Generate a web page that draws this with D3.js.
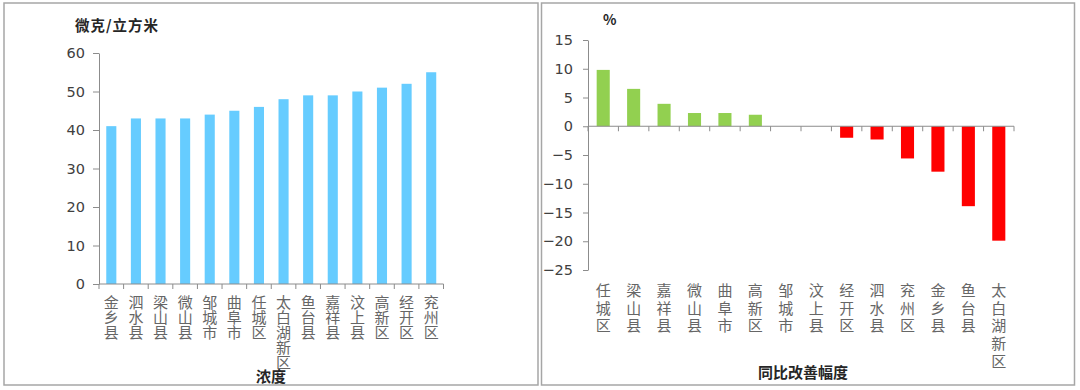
<!DOCTYPE html>
<html>
<head>
<meta charset="utf-8">
<title>浓度与同比改善幅度</title>
<script src="https://d3js.org/d3.v7.min.js"></script>
<style>
body { margin: 0; background: #fff; }
svg text { font-family: "DejaVu Sans", sans-serif; }
.cat { font-family: "Noto Sans CJK SC", sans-serif; fill: #666; font-size: 15px; writing-mode: vertical-rl; }
.ttl { font-family: "Noto Sans CJK SC", sans-serif; font-weight: bold; fill: #262626; }
.axis path, .axis line { stroke: #8c8c8c; }
.axis text { fill: #404040; font-size: 14.5px; }
</style>
</head>
<body>
<div id="wrapper"></div>
<script>
// left chart: concentration
var concCats = ["金乡县","泗水县","梁山县","微山县","邹城市","曲阜市","任城区","太白湖新区","鱼台县","嘉祥县","汶上县","高新区","经开区","兖州区"];
var concVals = [41, 43, 43, 43, 44, 45, 46, 48, 49, 49, 50, 51, 52, 55];
var concTicks = [0, 10, 20, 30, 40, 50, 60];

// right chart: year-on-year improvement
var chgCats = ["任城区","梁山县","嘉祥县","微山县","曲阜市","高新区","邹城市","汶上县","经开区","泗水县","兖州区","金乡县","鱼台县","太白湖新区"];
var chgVals = [9.8, 6.5, 3.9, 2.3, 2.3, 2.0, 0, 0, -2.0, -2.3, -5.6, -7.9, -13.9, -19.9];
var chgTicks = [15, 10, 5, 0, -5, -10, -15, -20, -25];

var svg = d3.select("#wrapper").append("svg")
    .attr("width", 1080)
    .attr("height", 390);

// panel frames
svg.append("rect").attr("x", 4).attr("y", 3).attr("width", 534).attr("height", 382)
    .attr("fill", "none").attr("stroke", "#a6a6a6").attr("stroke-width", 1.5);
svg.append("rect").attr("x", 541.5).attr("y", 3).attr("width", 533).attr("height", 382)
    .attr("fill", "none").attr("stroke", "#a6a6a6").attr("stroke-width", 1.5);

// vertical category labels, written top to bottom
function vLabels(g, cats, x, y0, gap) {
    g.selectAll("text.cat").data(cats).enter()
        .append("text").attr("class", "cat")
        .attr("x", function(d) { return x(d) + x.bandwidth() / 2; })
        .attr("y", y0)
        .attr("letter-spacing", gap + "px")
        .text(function(d) { return d; });
}

// tick marks at band edges, hanging under the baseline
function bandTicks(g, cats, x, y) {
    var pos = cats.map(function(c) { return x(c); });
    pos.push(x.range()[1]);
    g.selectAll("line.bt").data(pos).enter()
        .append("line").attr("class", "bt")
        .attr("x1", function(d) { return d; })
        .attr("x2", function(d) { return d; })
        .attr("y1", y).attr("y2", y + 5)
        .attr("stroke", "#8c8c8c");
    g.append("line")
        .attr("x1", x.range()[0]).attr("x2", x.range()[1])
        .attr("y1", y).attr("y2", y)
        .attr("stroke", "#8c8c8c");
}

// ---- left ----
var gL = svg.append("g");
var xL = d3.scaleBand().domain(concCats).range([99, 443.5]);
var yL = d3.scaleLinear().domain([0, 60]).range([284, 53]);
var bwL = xL.bandwidth() * 0.41;

gL.append("g").attr("class", "axis")
    .attr("transform", "translate(99,0)")
    .call(d3.axisLeft(yL).tickValues(concTicks).tickSize(6).tickPadding(8).tickSizeOuter(0));

gL.selectAll("rect.bar").data(concVals).enter()
    .append("rect").attr("class", "bar")
    .attr("x", function(d, i) { return xL(concCats[i]) + (xL.bandwidth() - bwL) / 2; })
    .attr("y", function(d) { return yL(d); })
    .attr("width", bwL)
    .attr("height", function(d) { return yL(0) - yL(d); })
    .attr("fill", "#66ccff");

bandTicks(gL, concCats, xL, yL(0));
vLabels(gL, concCats, xL, 295, 0);

gL.append("text").attr("class", "ttl").attr("x", 75).attr("y", 31)
    .attr("font-size", "14.5px").attr("letter-spacing", "1px").text("微克/立方米");
gL.append("text").attr("class", "ttl").attr("x", 271).attr("y", 382)
    .attr("text-anchor", "middle").attr("font-size", "15px").text("浓度");

// ---- right ----
var gR = svg.append("g");
var xR = d3.scaleBand().domain(chgCats).range([588, 1014]);
var yR = d3.scaleLinear().domain([-25, 15]).range([270, 40]);
var bwR = xR.bandwidth() * 0.43;

gR.append("g").attr("class", "axis")
    .attr("transform", "translate(588,0)")
    .call(d3.axisLeft(yR).tickValues(chgTicks).tickSize(5).tickPadding(10).tickSizeOuter(0));

gR.selectAll("rect.bar").data(chgVals).enter()
    .append("rect").attr("class", "bar")
    .attr("x", function(d, i) { return xR(chgCats[i]) + (xR.bandwidth() - bwR) / 2; })
    .attr("y", function(d) { return yR(Math.max(d, 0)); })
    .attr("width", bwR)
    .attr("height", function(d) { return Math.abs(yR(d) - yR(0)); })
    .attr("fill", function(d) { return d >= 0 ? "#92d050" : "#ff0000"; });

bandTicks(gR, chgCats, xR, yR(0));
vLabels(gR, chgCats, xR, 283, 2.6);

gR.append("text").attr("class", "ttl").attr("x", 603).attr("y", 25)
    .attr("font-size", "14px").text("%");
gR.append("text").attr("class", "ttl").attr("x", 803).attr("y", 378)
    .attr("text-anchor", "middle").attr("font-size", "15px").text("同比改善幅度");
</script>
</body>
</html>
